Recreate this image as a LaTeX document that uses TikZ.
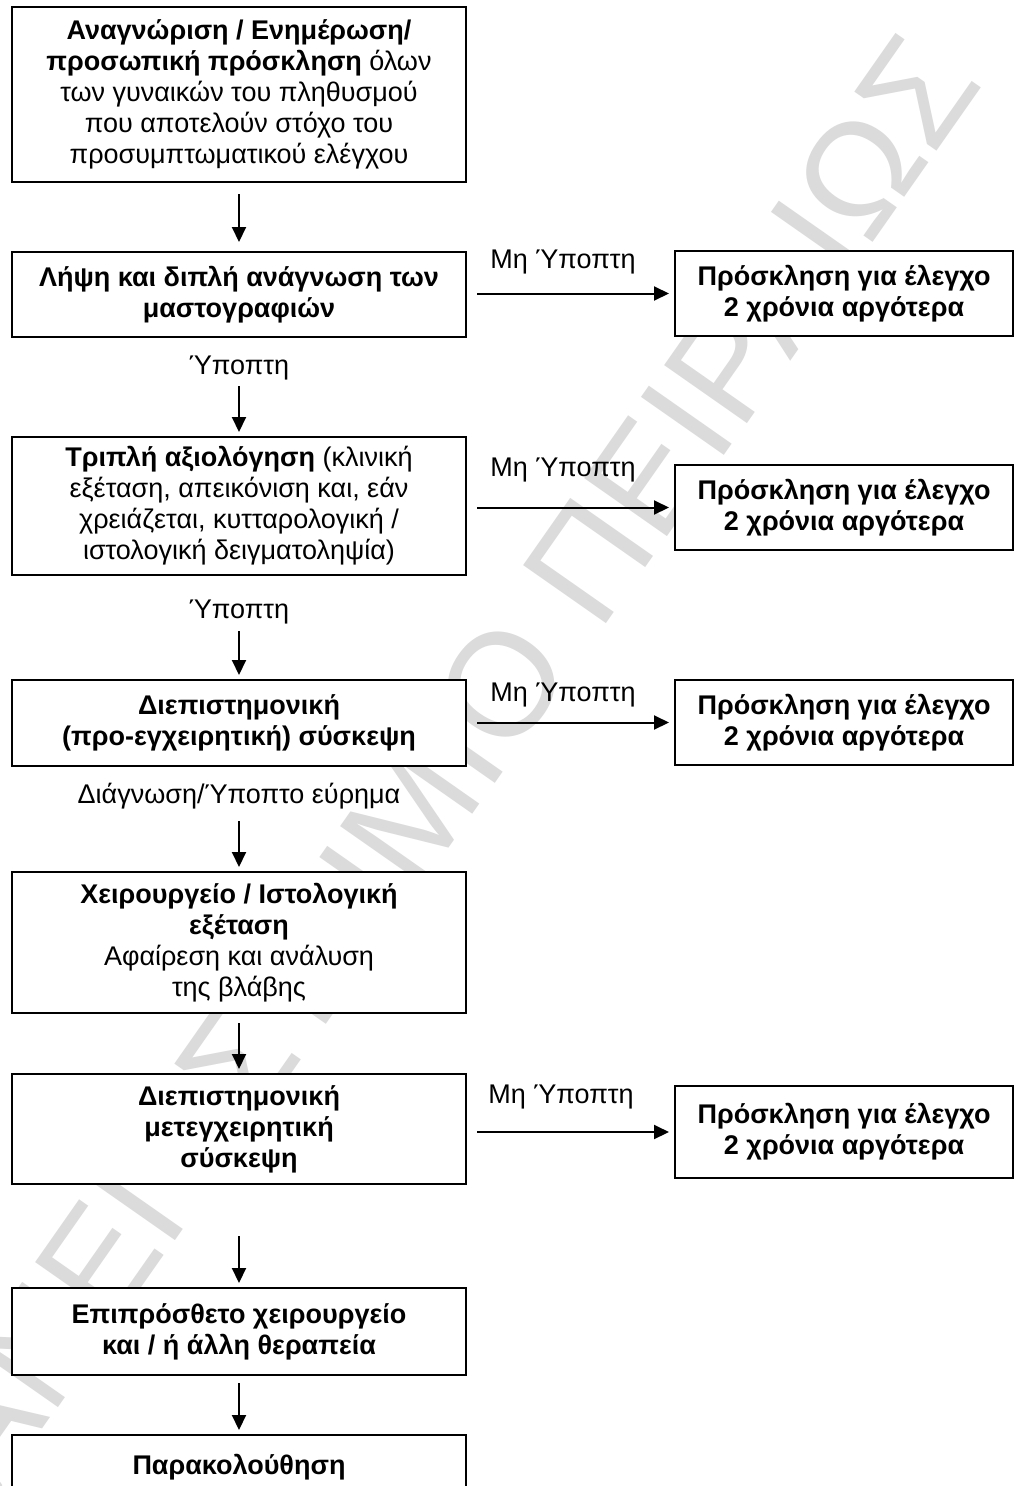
\documentclass[tikz,border=0pt]{standalone}
\usepackage{fontspec}
\setmainfont{Liberation Sans}
\usetikzlibrary{arrows.meta}
\begin{document}
\begin{tikzpicture}[x=1pt,y=-1pt,
  font=\fontsize{27}{31}\selectfont,
  box/.style={draw, line width=2pt, fill=white, align=center, inner sep=0pt},
  lbox/.style={box, minimum width=454pt},
  rbox/.style={box, minimum width=338pt, minimum height=85pt, font=\fontsize{27}{31}\selectfont\bfseries},
  lab/.style={inner sep=0pt, align=center},
  arr/.style={line width=2pt, -{Triangle[length=15pt,width=14pt]}},
  wm/.style={text=black!14, inner sep=0pt, font=\fontsize{147}{147}\selectfont}
]
\useasboundingbox (0,0) rectangle (1015,1486);
\clip (0,0) rectangle (1015,1486);
\fill[white] (0,0) rectangle (1015,1486);
% watermark
\node[wm, rotate=55] (wmark) at (418,805) {ΠΑΝΕΠΙΣΤΗΜΙΟ ΠΕΙΡΑΙΩΣ};

% left column
\node[lbox, minimum height=175pt] (b1) at (239,94.5)
  {\textbf{Αναγνώριση / Ενημέρωση/}\\ \textbf{προσωπική πρόσκληση} όλων\\ των γυναικών του πληθυσμού\\ που αποτελούν στόχο του\\ προσυμπτωματικού ελέγχου};
\node[lbox, minimum height=85pt] (b2) at (239,294.5)
  {\textbf{Λήψη και διπλή ανάγνωση των}\\ \textbf{μαστογραφιών}};
\node[lbox, minimum height=138pt] (b3) at (239,506)
  {\textbf{Τριπλή αξιολόγηση} (κλινική\\ εξέταση, απεικόνιση και, εάν\\ χρειάζεται, κυτταρολογική /\\ ιστολογική δειγματοληψία)};
\node[lbox, minimum height=86pt] (b4) at (239,723)
  {\textbf{Διεπιστημονική}\\ \textbf{(προ-εγχειρητική) σύσκεψη}};
\node[lbox, minimum height=141pt] (b5) at (239,942.5)
  {\textbf{Χειρουργείο / Ιστολογική}\\ \textbf{εξέταση}\\ Αφαίρεση και ανάλυση\\ της βλάβης};
\node[lbox, minimum height=110pt] (b6) at (239,1129)
  {\textbf{Διεπιστημονική}\\ \textbf{μετεγχειρητική}\\ \textbf{σύσκεψη}};
\node[lbox, minimum height=87pt] (b7) at (239,1331.5)
  {\textbf{Επιπρόσθετο χειρουργείο}\\ \textbf{και / ή άλλη θεραπεία}};
\node[lbox, minimum height=65pt] (b8) at (239,1467.5)
  {\textbf{Παρακολούθηση}};

% right column
\node[rbox] (r1) at (844,293.5) {Πρόσκληση για έλεγχο\\ 2 χρόνια αργότερα};
\node[rbox] (r2) at (844,507.5) {Πρόσκληση για έλεγχο\\ 2 χρόνια αργότερα};
\node[rbox] (r3) at (844,722.5) {Πρόσκληση για έλεγχο\\ 2 χρόνια αργότερα};
\node[rbox, minimum height=92pt] (r4) at (844,1132) {Πρόσκληση για έλεγχο\\ 2 χρόνια αργότερα};

% labels
\node[lab] (n1) at (563,262) {Μη Ύποπτη};
\node[lab] (n2) at (563,470) {Μη Ύποπτη};
\node[lab] (n3) at (563,695) {Μη Ύποπτη};
\node[lab] (n4) at (561,1097) {Μη Ύποπτη};
\node[lab] (y1) at (239,368) {Ύποπτη};
\node[lab] (y2) at (239,612) {Ύποπτη};
\node[lab] (d1) at (239,796) {Διάγνωση/Ύποπτο εύρημα};

% vertical arrows
\draw[arr, shorten <=11pt, shorten >=9pt] (b1) -- (b2);
\draw[arr, shorten <=48pt, shorten >=4pt] (b2) -- (b3);
\draw[arr, shorten <=55pt, shorten >=4pt] (b3) -- (b4);
\draw[arr, shorten <=54pt, shorten >=4pt] (b4) -- (b5);
\draw[arr, shorten <=9pt, shorten >=4pt] (b5) -- (b6);
\draw[arr, shorten <=51pt, shorten >=4pt] (b6) -- (b7);
\draw[arr, shorten <=7pt, shorten >=4pt] (b7) -- (b8);

% horizontal arrows
\draw[arr, shorten <=10pt, shorten >=5pt] (b2.east |- r1.west) -- (r1.west);
\draw[arr, shorten <=10pt, shorten >=5pt] (b3.east |- r2.west) -- (r2.west);
\draw[arr, shorten <=10pt, shorten >=5pt] (b4.east |- r3.west) -- (r3.west);
\draw[arr, shorten <=10pt, shorten >=5pt] (b6.east |- r4.west) -- (r4.west);
\end{tikzpicture}
\end{document}
